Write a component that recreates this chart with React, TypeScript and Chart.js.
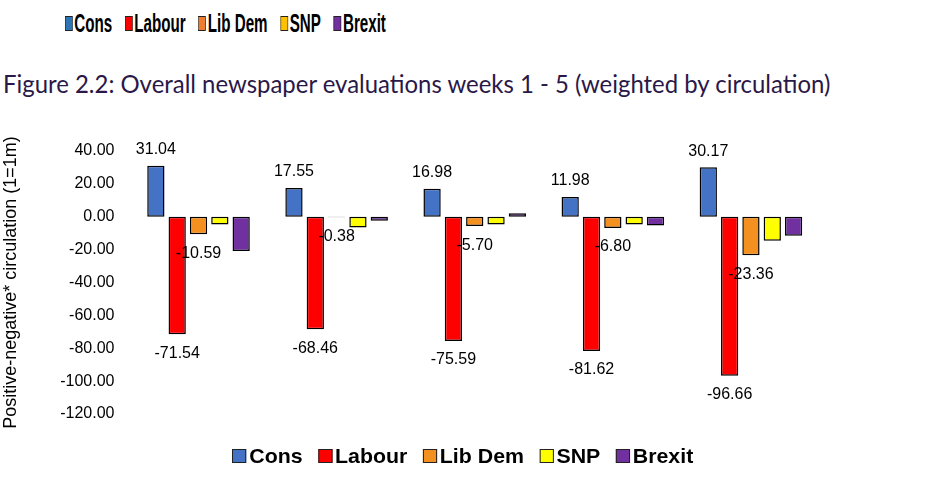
import React, { useEffect, useLayoutEffect, useRef } from 'react';
import { Chart, registerables } from 'chart.js';

Chart.register(...registerables);

// weeks 1 - 5 (the reference prints no category labels)
const weeks = ['Week 1', 'Week 2', 'Week 3', 'Week 4', 'Week 5'];
const parties = ['Cons', 'Labour', 'Lib Dem', 'SNP', 'Brexit'];
const cons = [31.04, 17.55, 16.98, 11.98, 30.17];
const labour = [-71.54, -68.46, -75.59, -81.62, -96.66];
const libDem = [-10.59, -0.38, -5.7, -6.8, -23.36];
const snp = [-4.7, -6.5, -4.7, -4.7, -14.6];
const brexit = [-20.9, -2.4, 2.2, -5.3, -11.5];
const partyColors = ['#4472C4', '#FF0000', '#F39020', '#FFFF00', '#7030A0'];
// the legend fragment above the title comes from the previous figure
const prevLegendColors = ['#2E75B6', '#FF0000', '#ED7D31', '#FFC000', '#7030A0'];
const yTicks = [40, 20, 0, -20, -40, -60, -80, -100, -120];
const labelledSeries = [0, 1, 2];

const FONT = '"Liberation Sans", Arial, sans-serif';

function FitText({ width, children, style }: { width: number; children: React.ReactNode; style?: React.CSSProperties }) {
  const ref = useRef<HTMLDivElement>(null);
  useLayoutEffect(() => {
    const el = ref.current;
    if (!el) return;
    el.style.transform = 'none';
    const w = el.offsetWidth;
    if (w > 0) el.style.transform = `scaleX(${width / w})`;
  });
  return (
    <div ref={ref} style={{ display: 'inline-flex', whiteSpace: 'nowrap', transformOrigin: 'left center', ...style }}>
      {children}
    </div>
  );
}

function Legend({ colors, fontSize, box, gap, spacing }: { colors: string[]; fontSize: number; box: [number, number]; gap: number; spacing: number }) {
  return (
    <>
      {parties.map((p, i) => (
        <span key={p} style={{ display: 'inline-flex', alignItems: 'center', marginRight: i < parties.length - 1 ? spacing : 0 }}>
          <span
            style={{
              display: 'inline-block',
              width: box[0],
              height: box[1],
              background: colors[i],
              border: '1px solid #222',
              marginRight: gap,
              boxSizing: 'border-box',
            }}
          />
          <span style={{ fontSize }}>{p}</span>
        </span>
      ))}
    </>
  );
}

const valueLabels = {
  id: 'valueLabels',
  afterDatasetsDraw(chart: Chart) {
    const ctx = chart.ctx;
    ctx.save();
    ctx.font = `16px ${FONT}`;
    ctx.fillStyle = '#000';
    ctx.textAlign = 'center';
    ctx.textBaseline = 'middle';
    labelledSeries.forEach((di) => {
      const meta = chart.getDatasetMeta(di);
      const values = chart.data.datasets[di].data as number[];
      meta.data.forEach((bar: any, i: number) => {
        const v = values[i];
        const y = v >= 0 ? bar.y - 16 : bar.y + 19;
        ctx.fillText(v.toFixed(2), bar.x, y);
      });
    });
    ctx.restore();
  },
};

export default function App() {
  const canvasRef = useRef<HTMLCanvasElement>(null);
  const chartInstance = useRef<Chart | null>(null);

  useEffect(() => {
    document.body.style.margin = '0';
    if (!canvasRef.current) return;
    if (chartInstance.current) chartInstance.current.destroy();

    const series = [cons, labour, libDem, snp, brexit];
    chartInstance.current = new Chart(canvasRef.current, {
      type: 'bar',
      data: {
        labels: weeks,
        datasets: parties.map((p, i) => ({
          label: p,
          data: series[i],
          backgroundColor: partyColors[i],
          borderColor: '#000',
          borderWidth: 1.5,
          borderSkipped: false,
          categoryPercentage: 0.772,
          barPercentage: 0.81,
        })),
      },
      options: {
        animation: false,
        responsive: true,
        maintainAspectRatio: false,
        layout: { padding: { left: 0, right: 115, top: 151, bottom: 77 } },
        scales: {
          x: { display: false },
          y: {
            min: -120,
            max: 40,
            afterBuildTicks: (axis: any) => {
              axis.ticks = yTicks.map((v) => ({ value: v }));
            },
            grid: { display: false, drawTicks: false },
            border: { display: false },
            ticks: {
              padding: 15,
              color: '#000',
              font: { family: FONT, size: 16 },
              callback: (v: any) => Number(v).toFixed(2),
            },
            title: {
              display: true,
              text: 'Positive-negative* circulation (1=1m)',
              color: '#000',
              font: { family: FONT, size: 18 },
              padding: { top: 0, bottom: 23.6 },
            },
          },
        },
        plugins: {
          legend: { display: false },
          tooltip: { enabled: false },
        },
      },
      plugins: [valueLabels],
    });

    return () => {
      if (chartInstance.current) {
        chartInstance.current.destroy();
        chartInstance.current = null;
      }
    };
  }, []);

  return (
    <div style={{ position: 'relative', width: 935, height: 491, background: '#fff', overflow: 'hidden' }}>
      <div style={{ position: 'absolute', left: 65, top: 8 }}>
        <FitText width={321} style={{ alignItems: 'center', fontFamily: FONT, fontWeight: 'bold', lineHeight: '30px', color: '#000' }}>
          <Legend colors={prevLegendColors} fontSize={26} box={[13, 15]} gap={3} spacing={22} />
        </FitText>
      </div>
      <div style={{ position: 'absolute', left: 3, top: 68 }}>
        <FitText width={827} style={{ fontFamily: 'Lato, "Noto Sans", sans-serif', fontWeight: 400, fontSize: 25, lineHeight: '30px', color: '#2A1848' }}>
          Figure 2.2: Overall newspaper evaluations weeks 1 - 5 (weighted by circulation)
        </FitText>
      </div>
      <canvas ref={canvasRef} style={{ position: 'absolute', left: 0, top: 0, width: 935, height: 491 }} />
      <div style={{ position: 'absolute', left: 232, top: 441 }}>
        <FitText width={461} style={{ alignItems: 'center', fontFamily: FONT, fontWeight: 'bold', lineHeight: '30px', color: '#000' }}>
          <Legend colors={partyColors} fontSize={21} box={[14, 14]} gap={3} spacing={15} />
        </FitText>
      </div>
    </div>
  );
}
